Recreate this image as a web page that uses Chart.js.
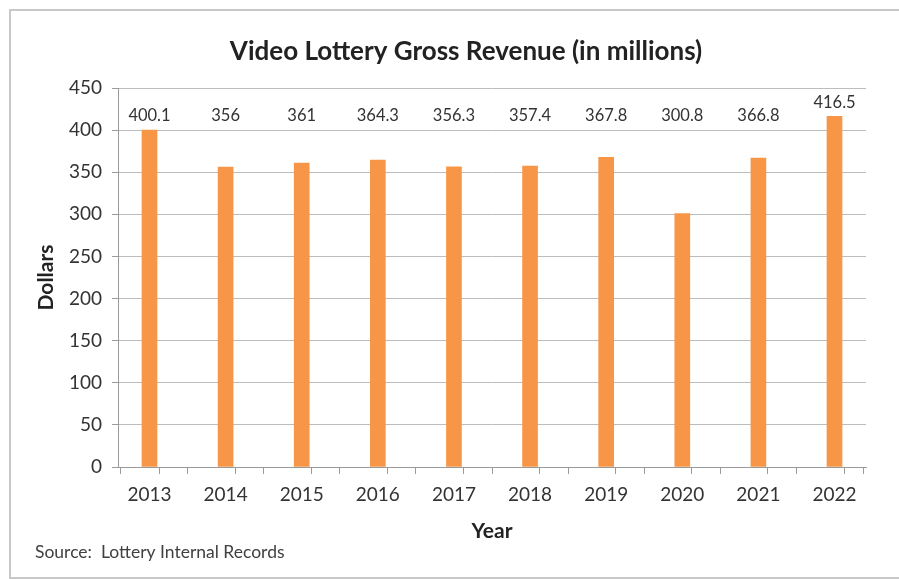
<!DOCTYPE html>
<html>
<head>
<meta charset="utf-8">
<script src="https://cdn.jsdelivr.net/npm/chart.js@4.4.0/dist/chart.umd.min.js"></script>
<style>
  html, body { margin: 0; padding: 0; background: #fff; }
  #wrap { width: 899px; height: 579px; }
</style>
</head>
<body>
<div id="wrap"><canvas id="revenueChart" width="899" height="579"></canvas></div>
<script>
// Chart data
const years = [2013, 2014, 2015, 2016, 2017, 2018, 2019, 2020, 2021, 2022];
const revenue = [400.1, 356, 361, 364.3, 356.3, 357.4, 367.8, 300.8, 366.8, 416.5];
const yTicks = [0, 50, 100, 150, 200, 250, 300, 350, 400, 450];

const chartTitle = 'Video Lottery Gross Revenue (in millions)';
const sourceNote = 'Source:  Lottery Internal Records';

const orange = '#F79646';
const textColor = '#333333';
const gridColor = '#bcbcbc';
const fontFamily = "Lato, 'Open Sans', sans-serif";

const xMin = years[0] - 0.25;
const xMax = years[years.length - 1] + 0.25;

// Frame, title, source note and value labels
const decorations = {
  id: 'decorations',
  beforeDraw(chart) {
    const c = chart.ctx;
    c.save();
    c.fillStyle = '#fff';
    c.fillRect(0, 0, chart.width, chart.height);
    c.strokeStyle = '#c8c8c8';
    c.lineWidth = 2;
    c.strokeRect(10, 10, 1000, 568);
    c.restore();
  },
  afterDraw(chart) {
    const c = chart.ctx;
    c.save();
    c.fillStyle = '#222222';
    c.font = 'bold 26px ' + fontFamily;
    c.textAlign = 'center';
    c.textBaseline = 'middle';
    c.fillText(chartTitle, 466, 52);

    c.fillStyle = '#404040';
    c.font = '17.5px ' + fontFamily;
    c.textAlign = 'left';
    c.fillText(sourceNote, 35, 552);

    const yScale = chart.scales.y;
    c.fillStyle = textColor;
    c.font = '16.5px ' + fontFamily;
    c.textAlign = 'center';
    chart.getDatasetMeta(0).data.forEach((bar, i) => {
      const v = revenue[i];
      const y = yScale.getPixelForValue(Math.max(v, 400)) - 14;
      c.fillText(String(v), bar.x, y);
    });
    c.restore();
  }
};

new Chart(document.getElementById('revenueChart'), {
  type: 'bar',
  data: {
    datasets: [{
      label: 'Revenue',
      data: years.map((yr, i) => ({ x: yr, y: revenue[i] })),
      backgroundColor: orange,
      borderWidth: 0,
      barThickness: 15
    }]
  },
  options: {
    responsive: false,
    animation: false,
    layout: { padding: { left: 30, right: 33, top: 88, bottom: 35 } },
    plugins: {
      legend: { display: false },
      tooltip: { enabled: false }
    },
    scales: {
      x: {
        type: 'linear',
        min: xMin,
        max: xMax,
        afterBuildTicks(scale) {
          const ticks = [];
          for (let v = xMin; v <= xMax + 1e-6; v += 0.5) ticks.push({ value: v });
          years.forEach(yr => ticks.push({ value: yr }));
          ticks.sort((a, b) => a.value - b.value);
          scale.ticks = ticks;
        },
        afterFit(scale) { scale.height = 77; },
        grid: {
          drawOnChartArea: false,
          tickLength: 7,
          color: '#9a9a9a',
          tickColor: ctx => (ctx.tick && years.includes(ctx.tick.value)) ? 'rgba(0,0,0,0)' : '#9a9a9a'
        },
        border: { color: '#9a9a9a' },
        ticks: {
          autoSkip: false,
          maxRotation: 0,
          padding: 9,
          color: textColor,
          font: { family: fontFamily, size: 19 },
          callback: value => years.includes(value) ? String(value) : ''
        },
        title: {
          display: true,
          text: 'Year',
          color: '#222222',
          font: { family: fontFamily, size: 21, weight: 'bold' },
          padding: { top: 4, bottom: 0 }
        }
      },
      y: {
        min: 0,
        max: 450,
        afterBuildTicks(scale) {
          scale.ticks = yTicks.map(v => ({ value: v }));
        },
        afterFit(scale) { scale.width = 88; },
        grid: { color: gridColor, tickLength: 6, tickColor: '#9a9a9a' },
        border: { color: '#9a9a9a' },
        ticks: {
          padding: 10,
          color: textColor,
          font: { family: fontFamily, size: 19 }
        },
        title: {
          display: true,
          text: 'Dollars',
          color: '#222222',
          font: { family: fontFamily, size: 21, weight: 'bold' },
          padding: { top: 4, bottom: 0 }
        }
      }
    }
  },
  plugins: [decorations]
});
</script>
</body>
</html>
